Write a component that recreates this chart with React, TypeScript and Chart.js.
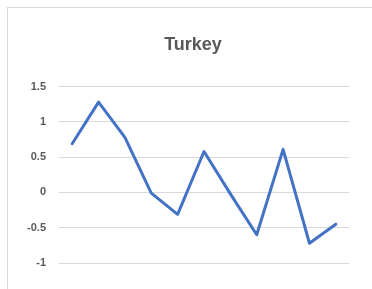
import React, { useEffect, useRef } from "react";
import { Chart, registerables } from "chart.js";

Chart.register(...registerables);

const title = "Turkey";
const categories = ["1", "2", "3", "4", "5", "6", "7", "8", "9", "10", "11"];
const values = [0.69, 1.28, 0.78, -0.01, -0.31, 0.58, -0.02, -0.6, 0.61, -0.72, -0.45];
const yMin = -1;
const yMax = 1.5;
const yStep = 0.5;

export default function App() {
  const ref = useRef<HTMLCanvasElement | null>(null);

  useEffect(() => {
    if (!ref.current) return;
    const chart = new Chart(ref.current, {
      type: "line",
      data: {
        labels: categories,
        datasets: [
          {
            label: title,
            data: values,
            borderColor: "#4472C4",
            backgroundColor: "#4472C4",
            borderWidth: 3,
            pointRadius: 0,
            tension: 0,
            borderCapStyle: "round",
            borderJoinStyle: "round",
            yAxisID: "y",
          },
        ],
      },
      options: {
        responsive: false,
        animation: false,
        layout: { padding: { left: 0, right: 0, top: 0, bottom: 26 } },
        plugins: {
          legend: { display: false },
          tooltip: { enabled: false },
          title: {
            display: true,
            text: title,
            color: "#595959",
            font: { family: "'Liberation Sans', Arial, sans-serif", size: 18, weight: "bold", lineHeight: 1.2 },
            padding: { top: 27, bottom: 31 },
          },
        },
        scales: {
          x: {
            type: "category",
            offset: true,
            display: false,
            grid: { display: false },
          },
          y: {
            position: "left",
            min: yMin,
            max: yMax,
            ticks: {
              stepSize: yStep,
              color: "#595959",
              padding: 13,
              font: { family: "'Liberation Sans', Arial, sans-serif", size: 11, weight: "bold" },
              callback: (v: any) => String(Math.round(Number(v) * 10) / 10),
            },
            grid: { color: "#d9d9d9", lineWidth: 1, drawTicks: false },
            border: { display: false },
            afterFit: (scale: any) => {
              scale.width = 52;
            },
          },
          y2: {
            position: "right",
            display: true,
            grid: { display: false, drawTicks: false },
            ticks: { display: false },
            border: { display: false },
            afterFit: (scale: any) => {
              scale.width = 30;
            },
          },
        },
      },
    });
    return () => chart.destroy();
  }, []);

  return (
    <div style={{ position: "fixed", left: 0, top: 0, width: 372, height: 289, overflow: "hidden", background: "#fff" }}>
      <div
        style={{
          position: "absolute",
          left: 7,
          top: 7,
          width: 400,
          height: 300,
          borderLeft: "1px solid #d9d9d9",
          borderTop: "1px solid #d9d9d9",
        }}
      />
      <canvas ref={ref} width={372} height={282} style={{ position: "absolute", left: 7, top: 7 }} />
    </div>
  );
}
